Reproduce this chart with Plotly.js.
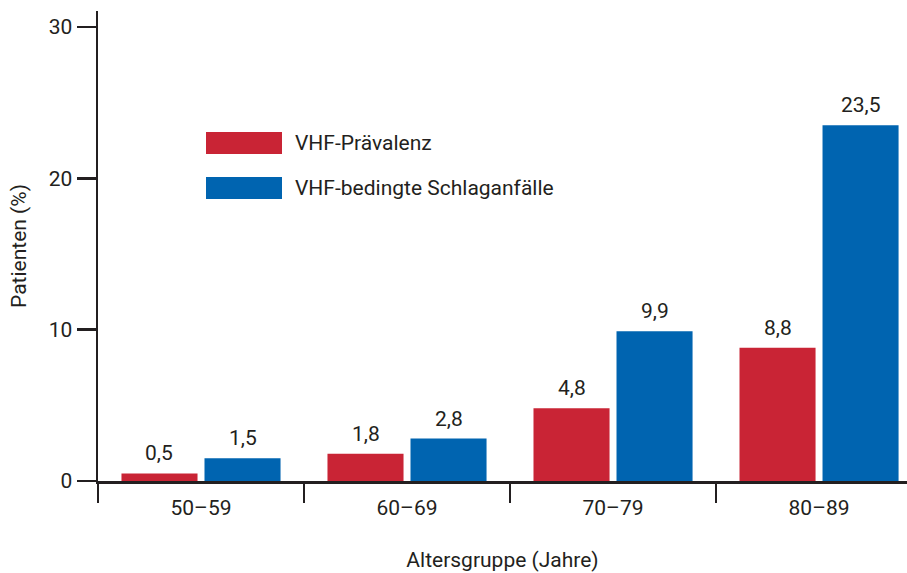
<!DOCTYPE html>
<html>
<head>
<meta charset="utf-8">
<script src="https://cdn.plot.ly/plotly-3.0.1.min.js"></script>
<style>html,body{margin:0;padding:0;background:#fff;}#chart{width:907px;height:573px;}</style>
</head>
<body>
<div id="chart"></div>
<script>
var categories = ["50–59", "60–69", "70–79", "80–89"];
var seriesNames = ["VHF-Prävalenz", "VHF-bedingte Schlaganfälle"];
var praevalenz = [0.5, 1.8, 4.8, 8.8];
var schlaganfaelle = [1.5, 2.8, 9.9, 23.5];
var yTicks = [0, 10, 20, 30];

var RED = "#c92435", BLUE = "#0064b0", INK = "#231f20";
var FONT = "Roboto, 'Noto Sans', sans-serif";
var FS = 21;

var W = 907, H = 573, ML = 98, MR = 0, MT = 11, MB = 92;
var PW = W - ML - MR, PH = H - MT - MB;
function px(x) { return (x - ML) / PW; }
function py(y) { return (H - MB - y) / PH; }

var series = [praevalenz, schlaganfaelle];
var colors = [RED, BLUE];
var traces = series.map(function (vals, k) {
  return {
    type: "bar", name: seriesNames[k], x: categories, y: vals,
    marker: {color: colors[k], line: {width: 0}},
    hoverinfo: "x+y", showlegend: false
  };
});

var annotations = [];
var off = [-0.2015, 0.2015];
series.forEach(function (vals, k) {
  vals.forEach(function (v, i) {
    annotations.push({
      x: i + off[k], y: v, xref: "x", yref: "y",
      text: v.toFixed(1).replace(".", ","), showarrow: false,
      yanchor: "bottom", yshift: 6,
      font: {family: FONT, size: FS, color: INK}
    });
  });
});

// legend (drawn manually for large swatches)
var shapes = [];
var legendRows = [[132, 154], [177, 199]];
seriesNames.forEach(function (name, k) {
  var r = legendRows[k];
  shapes.push({type: "rect", xref: "paper", yref: "paper",
    x0: px(206), x1: px(282), y0: py(r[1]), y1: py(r[0]),
    fillcolor: colors[k], line: {width: 0}});
  annotations.push({xref: "paper", yref: "paper", x: px(293), y: py((r[0] + r[1]) / 2),
    xanchor: "left", yanchor: "middle", text: name, showarrow: false,
    font: {family: FONT, size: FS, color: INK}});
});

var layout = {
  width: W, height: H,
  margin: {l: ML, r: MR, t: MT, b: MB, pad: 0},
  paper_bgcolor: "#fff", plot_bgcolor: "#fff",
  font: {family: FONT, size: FS, color: INK},
  separators: ",.",
  barmode: "group", bargap: 0.194, bargroupgap: 0.084,
  xaxis: {
    type: "category", range: [-0.5, 3.427],
    tickson: "boundaries", ticks: "outside", ticklen: 19, tickwidth: 2.5, tickcolor: INK,
    showline: true, linecolor: INK, linewidth: 2.5, showgrid: false, zeroline: false,
    ticklabelstandoff: 6,
    tickfont: {family: FONT, size: FS, color: INK},
    title: {text: "Altersgruppe (Jahre)", standoff: 34, font: {family: FONT, size: FS, color: INK}}
  },
  yaxis: {
    range: [0, 31.05], tickvals: yTicks, ticktext: yTicks.map(String),
    ticks: "outside", ticklen: 19, tickwidth: 2.5, tickcolor: INK,
    showline: true, linecolor: INK, linewidth: 2.5, showgrid: false, zeroline: false,
    tickfont: {family: FONT, size: FS, color: INK},
    title: {text: "Patienten (%)", standoff: 17, font: {family: FONT, size: FS, color: INK}}
  },
  shapes: shapes,
  annotations: annotations
};

Plotly.newPlot("chart", traces, layout, {displayModeBar: false, staticPlot: true});
</script>
</body>
</html>
